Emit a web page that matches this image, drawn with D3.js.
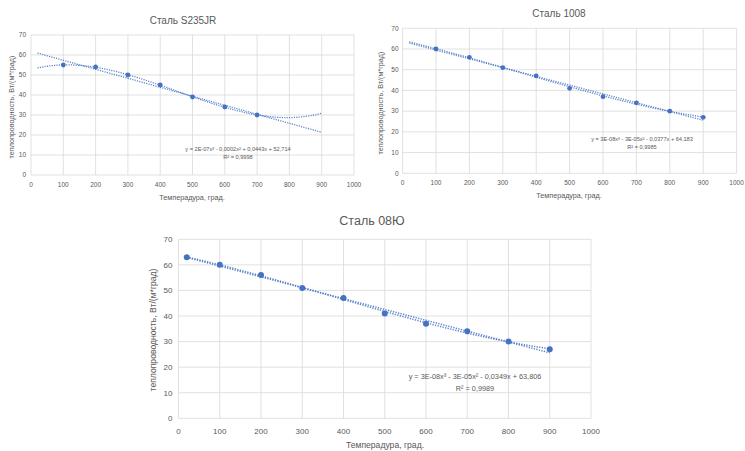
<!DOCTYPE html>
<html><head><meta charset="utf-8">
<script src="https://cdn.jsdelivr.net/npm/d3@7"></script>
<style>body{margin:0;background:#fff}svg{display:block}text{font-family:"Liberation Sans",Arial,sans-serif}</style>
</head><body>
<svg id="c" width="745" height="451"></svg>
<script>
// ---- data ----
const xTicks = [0,100,200,300,400,500,600,700,800,900,1000];
const yTicks = [0,10,20,30,40,50,60,70];

const s235jrX = [100,200,300,400,500,600,700];
const s235jrY = [55,54,50,45,39,34,30];

const st1008X = [100,200,300,400,500,600,700,800,900];
const st1008Y = [60,56,51,47,41,37,34,30,27];

const st08uX = [20,100,200,300,400,500,600,700,800,900];
const st08uY = [63,60,56,51,47,41,37,34,30,27];

const chartTitles = ["Сталь S235JR","Сталь 1008","Сталь 08Ю"];
const equations = [
  "y = 2E-07x³ - 0,0002x² + 0,0443x + 52,714",
  "y = 3E-08x³ - 3E-05x² - 0,0377x + 64,183",
  "y = 3E-08x³ - 3E-05x² - 0,0349x + 63,806"
];
const r2Labels = ["R² = 0,9998","R² = 0,9985","R² = 0,9989"];
const xAxisTitle = "Темперадура, град.";
const yAxisTitle = "теплопроводность, Вт/(м*град)";
const trendRange = [20, 900];

// ---- helpers ----
function polyFit(xs, ys, deg){
  const n = deg+1, s = 1000;
  const A = Array.from({length:n},()=>new Array(n+1).fill(0));
  xs.forEach((x0,k)=>{
    const x = x0/s;
    for(let i=0;i<n;i++){
      for(let j=0;j<n;j++) A[i][j]+=Math.pow(x,i+j);
      A[i][n]+=ys[k]*Math.pow(x,i);
    }
  });
  for(let c=0;c<n;c++){
    let p=c; for(let r=c+1;r<n;r++) if(Math.abs(A[r][c])>Math.abs(A[p][c])) p=r;
    [A[c],A[p]]=[A[p],A[c]];
    for(let r=0;r<n;r++){ if(r===c) continue; const f=A[r][c]/A[c][c]; for(let k=c;k<=n;k++) A[r][k]-=f*A[c][k]; }
  }
  const coef = A.map((row,i)=>row[n]/row[i]);
  return x => coef.reduce((acc,c,i)=>acc+c*Math.pow(x/s,i),0);
}

const svg = d3.select("#c");
const blue = "#4472C4", grey = "#595959", grid = "#d9d9d9";

function drawChart(cfg){
  const g = svg.append("g");
  const x = d3.scaleLinear().domain([0,1000]).range([cfg.x0,cfg.x1]);
  const y = d3.scaleLinear().domain([0,70]).range([cfg.y1,cfg.y0]);
  // gridlines
  g.selectAll(".vg").data(xTicks).enter().append("line")
    .attr("x1",d=>x(d)).attr("x2",d=>x(d)).attr("y1",cfg.y0).attr("y2",cfg.y1)
    .attr("stroke",grid).attr("stroke-width",0.8);
  g.selectAll(".hg").data(yTicks).enter().append("line")
    .attr("y1",d=>y(d)).attr("y2",d=>y(d)).attr("x1",cfg.x0).attr("x2",cfg.x1)
    .attr("stroke",grid).attr("stroke-width",0.8);
  // tick labels
  g.selectAll(".xt").data(xTicks).enter().append("text")
    .attr("x",d=>x(d)).attr("y",cfg.xtY).attr("text-anchor","middle")
    .attr("font-size",cfg.tf).attr("fill",grey).text(d=>d);
  g.selectAll(".yt").data(yTicks).enter().append("text")
    .attr("x",cfg.x0-cfg.ytOff).attr("y",d=>y(d)+cfg.tf*0.35).attr("text-anchor","end")
    .attr("font-size",cfg.tf).attr("fill",grey).text(d=>d);
  // titles
  g.append("text").attr("x",cfg.titleX).attr("y",cfg.titleY).attr("text-anchor","middle")
    .attr("font-size",cfg.titleF).attr("fill",grey).text(cfg.title);
  g.append("text").attr("x",cfg.xlX).attr("y",cfg.xlY).attr("text-anchor","middle")
    .attr("font-size",cfg.lf).attr("fill",grey).text(xAxisTitle);
  g.append("text").attr("transform",`translate(${cfg.ylX},${cfg.ylY}) rotate(-90)`)
    .attr("text-anchor","middle").attr("font-size",cfg.lf).attr("fill",grey).text(yAxisTitle);
  // trendlines
  const xs = d3.range(trendRange[0], trendRange[1]+1, 5);
  [polyFit(cfg.xs,cfg.ys,1), polyFit(cfg.xs,cfg.ys,3)].forEach(f=>{
    g.append("path").datum(xs)
      .attr("d", d3.line().x(d=>x(d)).y(d=>y(f(d))))
      .attr("fill","none").attr("stroke",blue).attr("stroke-width",cfg.tw)
      .attr("stroke-dasharray",cfg.dash).attr("opacity",0.85);
  });
  // points
  g.selectAll(".pt").data(cfg.xs.map((d,i)=>[d,cfg.ys[i]])).enter().append("circle")
    .attr("cx",d=>x(d[0])).attr("cy",d=>y(d[1])).attr("r",cfg.r).attr("fill",blue);
  // equation
  g.append("text").attr("x",cfg.eqX).attr("y",cfg.eqY1).attr("text-anchor","middle")
    .attr("font-size",cfg.ef).attr("fill",grey).text(cfg.eq);
  g.append("text").attr("x",cfg.eqX).attr("y",cfg.eqY2).attr("text-anchor","middle")
    .attr("font-size",cfg.ef).attr("fill",grey).text(cfg.r2);
}

drawChart({xs:s235jrX, ys:s235jrY, title:chartTitles[0], eq:equations[0], r2:r2Labels[0],
  x0:31, x1:354, y0:35, y1:175, xtY:186.5, ytOff:5, tf:6.5,
  titleX:183, titleY:24, titleF:10, xlX:192, xlY:199.5, ylX:14, ylY:107, lf:7.2,
  eqX:238, eqY1:150.5, eqY2:158.5, ef:5.6, r:2.4, tw:1.3, dash:"1.2,1.2"});

drawChart({xs:st1008X, ys:st1008Y, title:chartTitles[1], eq:equations[1], r2:r2Labels[1],
  x0:402.6, x1:736.6, y0:28.3, y1:173.3, xtY:185, ytOff:4, tf:6.5,
  titleX:559, titleY:16.5, titleF:10, xlX:569, xlY:197.5, ylX:383, ylY:103, lf:7.2,
  eqX:642, eqY1:141, eqY2:149, ef:5.6, r:2.4, tw:1.3, dash:"1.2,1.2"});

drawChart({xs:st08uX, ys:st08uY, title:chartTitles[2], eq:equations[2], r2:r2Labels[2],
  x0:178.5, x1:591, y0:239.3, y1:418.3, xtY:434, ytOff:6, tf:8,
  titleX:372, titleY:224.5, titleF:12.5, xlX:385, xlY:448, ylX:155.5, ylY:330, lf:8.6,
  eqX:475, eqY1:378.5, eqY2:390.5, ef:7.3, r:3, tw:1.5, dash:"1.3,1.3"});
</script>
</body></html>
